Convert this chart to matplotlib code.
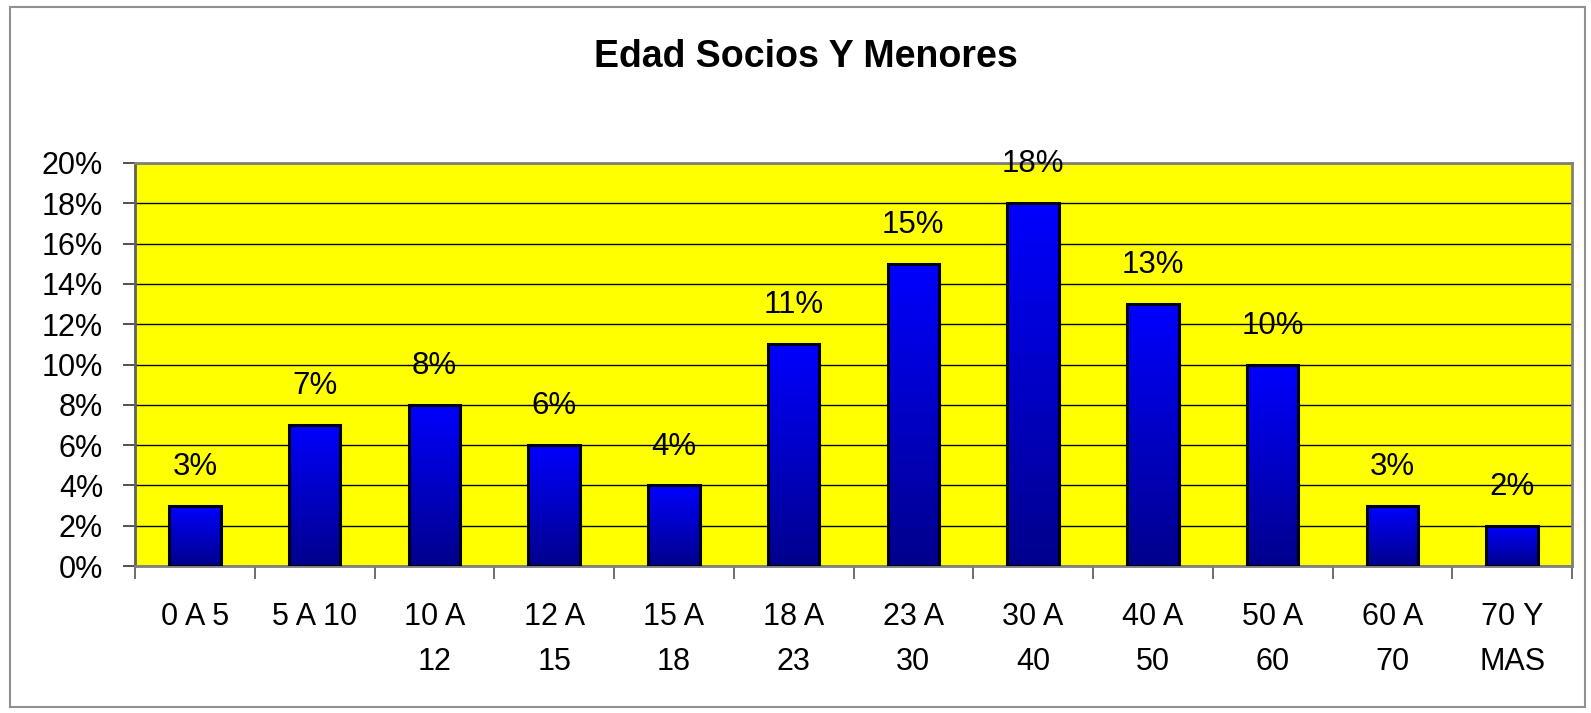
import numpy as np
import matplotlib
matplotlib.use("Agg")
import matplotlib.pyplot as plt
from matplotlib.patches import Rectangle

categorias = ["0 A 5", "5 A 10", "10 A\n12", "12 A\n15", "15 A\n18", "18 A\n23",
              "23 A\n30", "30 A\n40", "40 A\n50", "50 A\n60", "60 A\n70", "70 Y\nMAS"]
porcentajes = [3, 7, 8, 6, 4, 11, 15, 18, 13, 10, 3, 2]
yticks = [0, 2, 4, 6, 8, 10, 12, 14, 16, 18, 20]

plt.rcParams['font.family'] = ['Liberation Sans', 'DejaVu Sans']

fig = plt.figure(figsize=(15.91, 7.13), dpi=100)
ax = fig.add_axes([135/1591, 1 - 566/713, (1572-135)/1591, (566-163)/713])

ax.set_facecolor('#ffff00')
x = np.arange(len(categorias))
barras = ax.bar(x, porcentajes, width=0.43, color='none', edgecolor='black', linewidth=2.2, zorder=3)

# degradado azul en cada barra
grad = np.linspace(0, 1, 256).reshape(-1, 1)
cmap = matplotlib.colors.LinearSegmentedColormap.from_list('az', ['#00008c', '#0000ff'])
for b in barras:
    x0, y0 = b.get_x(), b.get_y()
    w, h = b.get_width(), b.get_height()
    im = ax.imshow(grad, cmap=cmap, aspect='auto', origin='lower',
                   extent=[x0, x0 + w, y0, y0 + h], zorder=2)
    im.set_clip_path(b)

for xi, v in zip(x, porcentajes):
    ax.text(xi, v + 1.93, f"{v}%", ha='center', va='center', fontsize=22.5, zorder=4,
            clip_on=False)

ax.set_xlim(-0.5, len(categorias) - 0.5)
ax.set_ylim(0, 20)
ax.set_yticks(yticks)
ax.set_yticklabels([f"{t}%" for t in yticks], fontsize=22)
ax.yaxis.grid(True, color='black', linewidth=1)
ax.set_axisbelow(True)

ax.set_xticks(x)
ax.set_xticklabels(categorias, fontsize=22, linespacing=1.66, va='top')
ax.set_xticks(np.arange(-0.5, len(categorias)), minor=True)
ax.tick_params(axis='x', which='major', length=0, pad=26)
ax.tick_params(axis='x', which='minor', length=9, width=1.2, color='#555555', direction='out')
ax.tick_params(axis='y', length=9, width=1.2, color='#333333', direction='out', pad=14)

for s in ['top', 'right']:
    ax.spines[s].set_color('#808080')
    ax.spines[s].set_linewidth(2)
ax.spines['left'].set_color('#606060')
ax.spines['bottom'].set_color('#808080')
ax.spines['left'].set_linewidth(2)
ax.spines['bottom'].set_linewidth(2)

fig.text(806/1591, 1 - 67/713, "Edad Socios Y Menores", ha='center', va='baseline',
         fontsize=27, fontweight='bold')

fig.patches.append(Rectangle((10/1591, 6/713), 1 - 16/1591, 1 - 13/713, transform=fig.transFigure,
                             fill=False, edgecolor='#909090', linewidth=1.5))

fig.savefig('out.png', dpi=100, facecolor='white')
